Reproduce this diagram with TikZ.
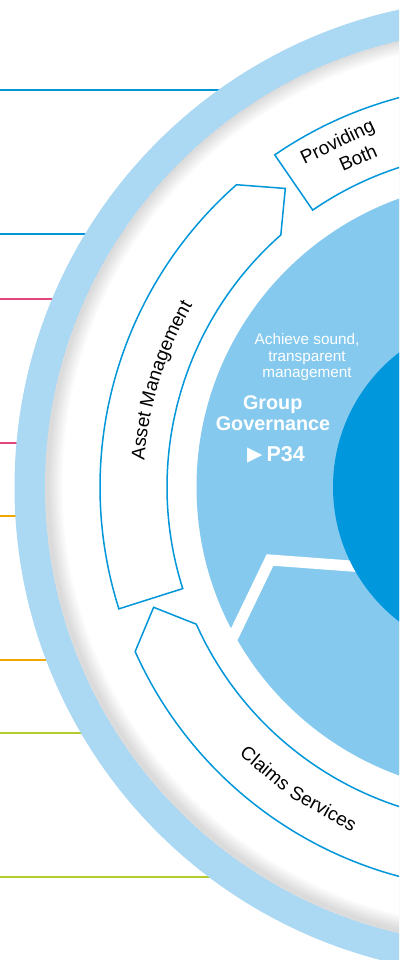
\documentclass[tikz,border=0pt]{standalone}
\usepackage{fontspec}
\setmainfont{Liberation Sans}
\newfontfamily\symfont{DejaVu Sans}
\usetikzlibrary{decorations.text}
\definecolor{ringblue}{HTML}{ABD8F3}
\definecolor{midblue}{HTML}{85CAEE}
\definecolor{darkblue}{HTML}{0097DD}
\definecolor{lineblue}{HTML}{0096DA}
\definecolor{linepink}{HTML}{E3467D}
\definecolor{lineorange}{HTML}{F0A800}
\definecolor{linegreen}{HTML}{B3CB2C}
\newcommand\lbfont{\fontsize{19}{19}\selectfont}
\begin{document}
\begin{tikzpicture}[x=1pt,y=1pt,
  band/.style={fill=white, draw=lineblue, line width=1.5pt, line join=miter},
  lbl/.style={inner sep=0pt, text=black, font=\lbfont},
  wtxt/.style={inner sep=0pt, text=white, font=\fontsize{15.3}{16}\selectfont, anchor=base},
  gtxt/.style={inner sep=0pt, text=white, font=\fontsize{19.8}{20}\selectfont\bfseries, anchor=base},
  sideline/.style={line width=1.3pt}]
\useasboundingbox (0,-960) rectangle (399,0);
\clip (0,-960) rectangle (399,0);
\coordinate (C) at (503,-487);
\coordinate (Cs) at (505,-485);
% side lines
\foreach \yy/\cc in {90/lineblue,234/lineblue,299/linepink,443/linepink,516/lineorange,660/lineorange,733/linegreen,877/linegreen}
  \draw[sideline, \cc] (0,-\yy) -- (280,-\yy);
% outer ring
\fill[ringblue] (C) circle[radius=488.5];
\fill[white] (C) circle[radius=458];
% shadow inside ring
\begin{scope}
  \clip (C) circle[radius=458];
  \foreach \i in {0,...,11}
    \draw[black, opacity=0.012, line width={(4+2.5*\i)*1pt}] (Cs) circle[radius=458];
\end{scope}
% middle disk
\fill[midblue] (C) circle[radius=306.5];
\draw[white, line width=11pt, line join=miter] (390,-568.9) -- (270,-560) -- (232,-639);
% centre disk
\fill[darkblue] (C) circle[radius=170];
% bands
\begin{scope}[shift={(C)}]
  \draw[band] (197.6:403) arc[start angle=197.6, end angle=131.4, radius=403]
     -- (126.1:369.5) -- (131.4:336) arc[start angle=131.4, end angle=197.6, radius=336] -- cycle;
  \draw[band] (124.5:403) arc[start angle=124.5, end angle=70, radius=403]
     -- (70:336) arc[start angle=70, end angle=124.5, radius=336] -- cycle;
  \draw[band] (204.1:403) -- (199:369.5) -- (204.1:336)
     arc[start angle=204.1, end angle=300, radius=336] -- (300:403)
     arc[start angle=300, end angle=204.1, radius=403] -- cycle;
  \path[decorate, decoration={text along path, text align=center, text={|\lbfont|Asset Management}}]
     (187.7:359.7) arc[start angle=187.7, end angle=137.7, radius=359.7];
  \node[lbl, rotate=-40.2] (claims) at (229.8:368) {Claims};
  \node[lbl, rotate=-29.2] (services) at (240.8:368) {Services};
\end{scope}
\node[lbl, rotate=25.6] (prov) at (338,-143) {Providing};
\node[lbl, rotate=23.7] (both) at (358,-157.5) {Both};
% centre texts
\node[wtxt] (t1) at (307,-344.3) {Achieve sound,};
\node[wtxt] (t2) at (307,-361) {transparent};
\node[wtxt] (t3) at (307,-377.7) {management};
\node[gtxt] (g1) at (272.7,-409.3) {Group};
\node[gtxt] (g2) at (273,-430) {Governance};
\node[gtxt, anchor=base east] (p34) at (305,-461.7) {\raisebox{-1.5pt}{\scalebox{0.77}[1.18]{\symfont\fontsize{26}{26}\selectfont ►}}\hspace{4pt}{\fontsize{21.5}{22}\selectfont P34}};
\end{tikzpicture}
\end{document}
